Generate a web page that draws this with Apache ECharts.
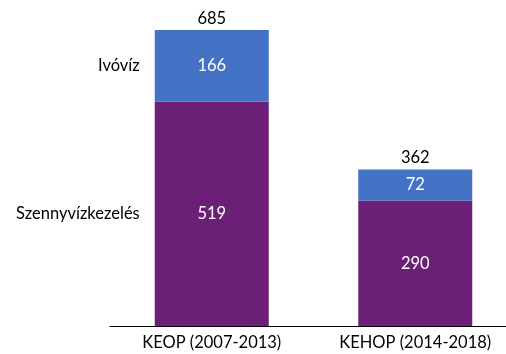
<!DOCTYPE html>
<html>
<head>
<meta charset="utf-8">
<script src="https://cdn.jsdelivr.net/npm/echarts@6/dist/echarts.min.js"></script>
<style>
  html, body { margin: 0; padding: 0; background: #fff; }
  #chart { width: 506px; height: 354px; }
</style>
</head>
<body>
<div id="chart"></div>
<script>
// Programs and their water-related funding split
const categories = ['KEOP (2007-2013)', 'KEHOP (2014-2018)'];
const wastewater = [519, 290];   // Szennyvízkezelés
const drinking = [166, 72];      // Ivóvíz
const seriesNames = ['Szennyvízkezelés', 'Ivóvíz'];
const totals = wastewater.map((v, i) => v + drinking[i]);

const FONT = 'Lato';
const FS = 16.5;
const chart = echarts.init(document.getElementById('chart'), null, { renderer: 'canvas' });

// Series name shown to the left of the first bar, at the middle of its segment
function sideName(name, yMid) {
  return {
    symbol: 'rect',
    symbolSize: [114, 1],
    itemStyle: { color: 'rgba(0,0,0,0)' },
    label: {
      show: true,
      position: 'left',
      distance: 15,
      formatter: name,
      color: '#000',
      fontFamily: FONT,
      fontSize: FS
    },
    data: [{ coord: [0, yMid] }]
  };
}

chart.setOption({
  animation: false,
  grid: { left: 110, width: 407, top: 23.5, bottom: 28, containLabel: false, outerBoundsMode: 'none' },
  xAxis: {
    type: 'category',
    data: categories,
    axisLine: { show: true, lineStyle: { color: '#000', width: 1 } },
    axisTick: { show: false },
    axisLabel: { color: '#000', fontFamily: FONT, fontSize: FS, margin: 8 }
  },
  yAxis: {
    type: 'value',
    min: 0,
    max: 700,
    show: false,
    splitLine: { show: false }
  },
  series: [
    {
      name: seriesNames[0],
      type: 'bar',
      stack: 'total',
      barWidth: 114,
      data: wastewater,
      itemStyle: { color: '#6C1F76' },
      label: { show: true, position: 'inside', color: '#fff', fontFamily: FONT, fontSize: FS },
      markPoint: sideName(seriesNames[0], wastewater[0] / 2)
    },
    {
      name: seriesNames[1],
      type: 'bar',
      stack: 'total',
      barWidth: 114,
      data: drinking,
      itemStyle: { color: '#4472C4' },
      label: { show: true, position: 'inside', color: '#fff', fontFamily: FONT, fontSize: FS },
      markPoint: sideName(seriesNames[1], wastewater[0] + drinking[0] / 2)
    },
    {
      name: 'total',
      type: 'bar',
      stack: 'total',
      barWidth: 114,
      data: totals.map(() => 0),
      itemStyle: { color: 'rgba(0,0,0,0)' },
      label: {
        show: true,
        position: 'top',
        distance: 3,
        color: '#000',
        fontFamily: FONT,
        fontSize: FS,
        formatter: p => String(totals[p.dataIndex])
      }
    }
  ]
});
</script>
</body>
</html>
